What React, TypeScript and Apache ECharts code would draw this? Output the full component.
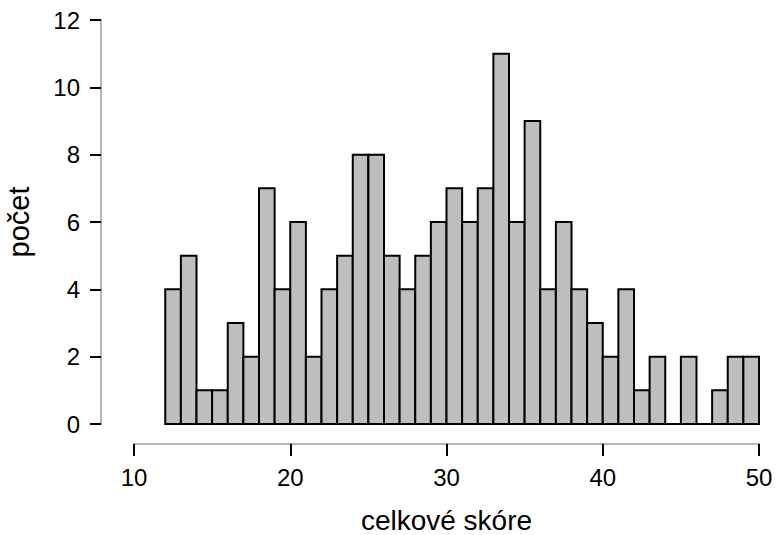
import React, { useEffect, useRef } from "react";
import * as echarts from "echarts";

const binStarts = [12,13,14,15,16,17,18,19,20,21,22,23,24,25,26,27,28,29,30,31,32,33,34,35,36,37,38,39,40,41,42,43,44,45,46,47,48,49];
const counts = [4,5,1,1,3,2,7,4,6,2,4,5,8,8,5,4,5,6,7,6,7,11,6,9,4,6,4,3,2,4,1,2,0,2,0,1,2,2];
const binWidth = 1;
const xTicks = { min: 10, max: 50, interval: 10 };
const yTicks = { min: 0, max: 12, interval: 2 };
const xTitle = "celkové skóre";
const yTitle = "počet";

export default function App() {
  const ref = useRef<HTMLDivElement>(null);
  useEffect(() => {
    if (!ref.current) return;
    const chart = echarts.init(ref.current, null, { renderer: "svg" });
    const font = "Liberation Sans, Arial, sans-serif";
    chart.setOption({
      animation: false,
      backgroundColor: "#ffffff",
      grid: { left: 134, right: 17, top: 20, bottom: 111, outerBoundsMode: "none", containLabel: false },
      xAxis: {
        type: "value",
        min: xTicks.min,
        max: xTicks.max,
        interval: xTicks.interval,
        offset: 20,
        name: xTitle,
        nameLocation: "middle",
        nameGap: 62,
        nameTextStyle: { fontFamily: font, fontSize: 28, lineHeight: 28, color: "#000" },
        axisLine: { show: true, onZero: false, lineStyle: { color: "#b5b5b5", width: 2 } },
        axisTick: { show: true, length: 12, lineStyle: { color: "#000", width: 2 } },
        axisLabel: { fontFamily: font, fontSize: 24, color: "#000", margin: 21 },
        splitLine: { show: false },
      },
      yAxis: {
        type: "value",
        min: yTicks.min,
        max: yTicks.max,
        interval: yTicks.interval,
        offset: 33,
        name: yTitle,
        nameLocation: "middle",
        nameGap: 68,
        nameRotate: 90,
        nameTextStyle: { fontFamily: font, fontSize: 29, color: "#000" },
        axisLine: { show: true, onZero: false, lineStyle: { color: "#b5b5b5", width: 2 } },
        axisTick: { show: true, length: 11, lineStyle: { color: "#000", width: 2 } },
        axisLabel: { fontFamily: font, fontSize: 24, color: "#000", margin: 21 },
        splitLine: { show: false },
      },
      series: [
        {
          type: "custom",
          data: binStarts.map((x, i) => [x, counts[i]]),
          renderItem: (params: any, api: any) => {
            const x = api.value(0);
            const h = api.value(1);
            const p0 = api.coord([x, h]);
            const p1 = api.coord([x + binWidth, 0]);
            return {
              type: "rect",
              shape: { x: p0[0], y: p0[1], width: p1[0] - p0[0], height: p1[1] - p0[1] },
              style: { fill: "#bebebe", stroke: "#000", lineWidth: 2 },
            };
          },
        },
      ],
    });
    return () => chart.dispose();
  }, []);
  return (
    <div
      ref={ref}
      style={{ position: "fixed", left: 0, top: 0, width: 776, height: 535 }}
    />
  );
}
